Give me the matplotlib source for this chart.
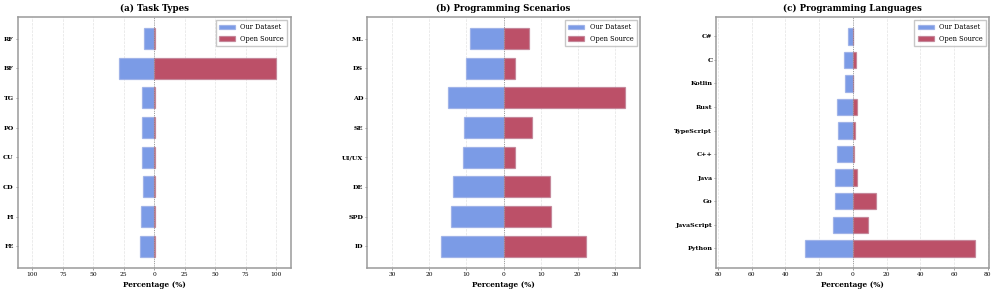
import matplotlib
matplotlib.use("Agg")
import matplotlib.pyplot as plt
import numpy as np

plt.rcParams['font.family'] = ['DejaVu Serif']

task_cats = ["FE", "FI", "CD", "CU", "PO", "TG", "BF", "RF"]
task_ours = [11.5, 10.7, 9.6, 9.8, 9.8, 9.8, 29.2, 8.7]
task_open = [0.3, 0.3, 0.3, 0.3, 0.3, 0.3, 100.0, 0.3]
task_ticks = [-100, -75, -50, -25, 0, 25, 50, 75, 100]

scen_cats = ["ID", "SPD", "DE", "UI/UX", "SE", "AD", "DS", "ML"]
scen_ours = [16.7, 14.2, 13.7, 10.9, 10.7, 15.0, 10.1, 9.1]
scen_open = [22.3, 12.9, 12.5, 3.1, 7.6, 32.8, 3.0, 6.9]
scen_ticks = [-30, -20, -10, 0, 10, 20, 30]

lang_cats = ["Python", "JavaScript", "Go", "Java", "C++", "TypeScript", "Rust", "Kotlin", "C", "C#"]
lang_ours = [28.6, 11.6, 10.6, 10.6, 9.3, 8.7, 9.1, 4.9, 5.1, 3.0]
lang_open = [72.3, 9.1, 13.8, 2.2, 0.8, 1.2, 2.2, 0.2, 1.8, 0.2]
lang_ticks = [-80, -60, -40, -20, 0, 20, 40, 60, 80]

titles = ["(a) Task Types", "(b) Programming Scenarios", "(c) Programming Languages"]
panels = [(task_cats, task_ours, task_open, task_ticks),
          (scen_cats, scen_ours, scen_open, scen_ticks),
          (lang_cats, lang_ours, lang_open, lang_ticks)]

blue = "#7b9be6"
red = "#bc5068"

fig = plt.figure(figsize=(9.96, 2.94), dpi=100)
lefts = [17.7, 367.0, 716.3]
for i, (cats, ours, opn, ticks) in enumerate(panels):
    ax = fig.add_axes([lefts[i] / 996, 1 - 268 / 294, 273 / 996, (268 - 16.7) / 294])
    y = np.arange(len(cats))
    ax.barh(y, -np.array(ours), height=0.7, color=blue, edgecolor=(0.6, 0.68, 0.9, 0.8),
            linewidth=0.9, label="Our Dataset", zorder=3)
    ax.barh(y, opn, height=0.7, color=red, edgecolor=(0.75, 0.5, 0.58, 0.8),
            linewidth=0.9, label="Open Source", zorder=3)
    m = max(max(ours), max(opn)) * 1.12
    ax.axvline(0, color="gray", linestyle=":", linewidth=0.6, zorder=4)
    ax.set_yticks(y)
    ax.set_yticklabels(cats, fontweight="bold", fontsize=4.6)
    ax.set_xticks(ticks)
    ax.set_xticklabels([f"{abs(t):g}" for t in ticks], fontsize=4.2)
    ax.set_xlim(-m, m)
    ax.grid(axis="x", linestyle="--", color="#e3e3e3", linewidth=0.5, zorder=0)
    ax.set_axisbelow(True)
    for s in ax.spines.values():
        s.set_color("#9a9a9a")
        s.set_linewidth(1.1)
    ax.tick_params(axis="both", length=1.5, width=0.5, color="#777777", pad=1.3)
    ax.set_xlabel("Percentage (%)", fontweight="bold", fontsize=5.3, labelpad=3.0)
    ax.set_title(titles[i], fontweight="bold", fontsize=6.2, pad=4)
    leg = ax.legend(loc="upper right", fontsize=4.8, frameon=True, fancybox=False,
                    handlelength=2.4, borderpad=0.5, borderaxespad=0.5)
    leg.get_frame().set_edgecolor("#bbbbbb")

fig.savefig("out.png", dpi=100)
